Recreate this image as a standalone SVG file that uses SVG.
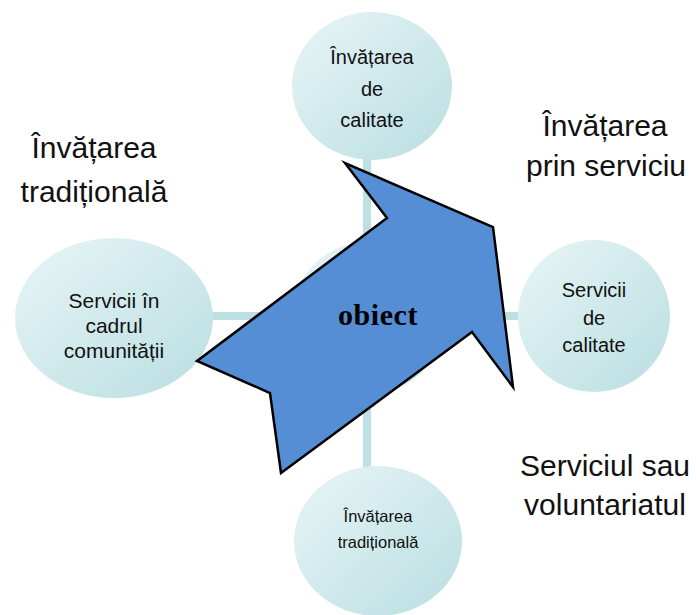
<svg xmlns="http://www.w3.org/2000/svg" width="696" height="615" viewBox="0 0 696 615">
<defs>
<linearGradient id="g" x1="0" y1="0" x2="1" y2="1">
<stop offset="0" stop-color="#e8f5f6"/>
<stop offset="1" stop-color="#b9dee1"/>
</linearGradient>
<style>
.n{fill:url(#g);stroke:none}
.c{stroke:#bde0e3;stroke-width:8;fill:none}
.t{font-family:"Liberation Sans",Arial,sans-serif;fill:#111;text-anchor:middle}
.big{font-size:30px}
</style>
</defs>
<rect width="696" height="615" fill="#ffffff"/>
<g id="connectors">
<line class="c" x1="367" y1="318" x2="367" y2="150"/>
<line class="c" x1="367" y1="318" x2="367" y2="470"/>
<line class="c" x1="367" y1="316" x2="205" y2="316"/>
<line class="c" x1="367" y1="316" x2="525" y2="316"/>
</g>
<g id="node-center"><ellipse class="n" cx="368" cy="318" rx="76" ry="76"/></g>
<g id="node-top">
<ellipse class="n" cx="372" cy="86" rx="80" ry="74"/>
<text class="t" font-size="20" x="372" y="64">Învățarea</text>
<text class="t" font-size="20" x="372" y="96">de</text>
<text class="t" font-size="20" x="372" y="127">calitate</text>
</g>
<g id="node-left">
<ellipse class="n" cx="114" cy="318" rx="99" ry="80"/>
<text class="t" font-size="21" x="114" y="308">Servicii în</text>
<text class="t" font-size="21" x="114" y="333">cadrul</text>
<text class="t" font-size="21" x="114" y="358">comunității</text>
</g>
<g id="node-right">
<ellipse class="n" cx="594" cy="316" rx="76" ry="76"/>
<text class="t" font-size="20" x="594" y="297">Servicii</text>
<text class="t" font-size="20" x="594" y="325">de</text>
<text class="t" font-size="20" x="594" y="352">calitate</text>
</g>
<g id="node-bottom">
<ellipse class="n" cx="378" cy="541" rx="84" ry="75"/>
<text class="t" font-size="16.5" x="378" y="522">Învățarea</text>
<text class="t" font-size="16.5" x="378" y="548">tradițională</text>
</g>
<g id="arrow">
<polygon points="345,163 387,218 197,361 270,393 281,473 472,332 513,387 493,227" fill="#558ed5" stroke="#000" stroke-width="2.5" stroke-linejoin="miter"/>
<text x="378" y="325" font-family="Liberation Serif,'Times New Roman',serif" font-weight="bold" font-size="30" letter-spacing="0.6" text-anchor="middle" fill="#000">obiect</text>
</g>
<g id="labels">
<text class="t big" x="94" y="158">Învățarea</text>
<text class="t big" x="94" y="202">tradițională</text>
<text class="t big" x="605" y="136">Învățarea</text>
<text class="t big" x="606" y="176">prin serviciu</text>
<text class="t big" x="605" y="476">Serviciul sau</text>
<text class="t big" x="605" y="515">voluntariatul</text>
</g>
</svg>
